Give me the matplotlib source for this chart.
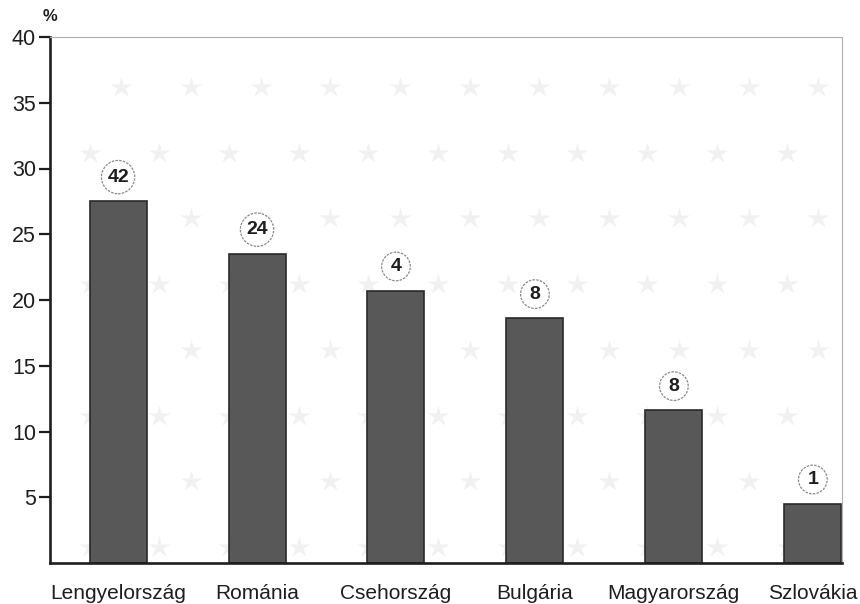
import numpy as np
import matplotlib.pyplot as plt

countries = ["Lengyelország", "Románia", "Csehország", "Bulgária",
             "Magyarország", "Szlovákia"]
shares = [27.5, 23.5, 20.7, 18.6, 11.6, 4.5]
circled = ["42", "24", "4", "8", "8", "1"]
y_ticks = [5, 10, 15, 20, 25, 30, 35, 40]

plt.rcParams['font.family'] = ['Liberation Sans', 'DejaVu Sans']

fig = plt.figure(figsize=(8.6, 6.04), dpi=100)
ax = fig.add_axes([50 / 860, 41 / 604, 792 / 860, 526 / 604])

# faint decorative background texture
for gx in np.arange(0.05, 1.0, 0.088):
    for k, gy in enumerate(np.arange(0.03, 1.0, 0.125)):
        off = 0.04 if k % 2 else 0.0
        ax.plot(gx + off, gy, marker='*', ms=16, color='#f1f1f1',
                transform=ax.transAxes, zorder=0, mec='none')

x = np.arange(len(countries))
ax.bar(x, shares, width=0.41, color='#585858', edgecolor='#2a2a2a',
       linewidth=1.2, zorder=2)

for xi, v, lab in zip(x, shares, circled):
    ax.annotate(lab, (xi, v), xytext=(0, 17.5), textcoords='offset points',
                ha='center', va='center', fontsize=14, fontweight='bold',
                color='#1e1e1e', zorder=3,
                bbox=dict(boxstyle='circle,pad=0.3', fc='white',
                          ec='#888888', lw=0.9, ls=(0, (2, 1))))

ax.set_xlim(-0.49, 5.21)
ax.set_ylim(0, 40)
ax.set_yticks(y_ticks)
ax.set_xticks(x)
ax.set_xticklabels(countries, fontsize=15, color='#1e1e1e')
ax.tick_params(axis='x', length=0, pad=15)
ax.tick_params(axis='y', length=8, width=1.6, labelsize=15.5,
               colors='#1e1e1e', pad=2)

for s in ['left', 'bottom']:
    ax.spines[s].set_linewidth(1.9)
    ax.spines[s].set_color('#1e1e1e')
for s in ['top', 'right']:
    ax.spines[s].set_color('#b0b0b0')
    ax.spines[s].set_linewidth(0.8)
    ax.spines[s].set_linestyle((0, (1, 1)))

ax.text(0.0, 1.025, "%", transform=ax.transAxes, ha='center', va='bottom',
        fontsize=12, fontweight='bold', color='#1e1e1e')

fig.savefig("out.png", dpi=100)
